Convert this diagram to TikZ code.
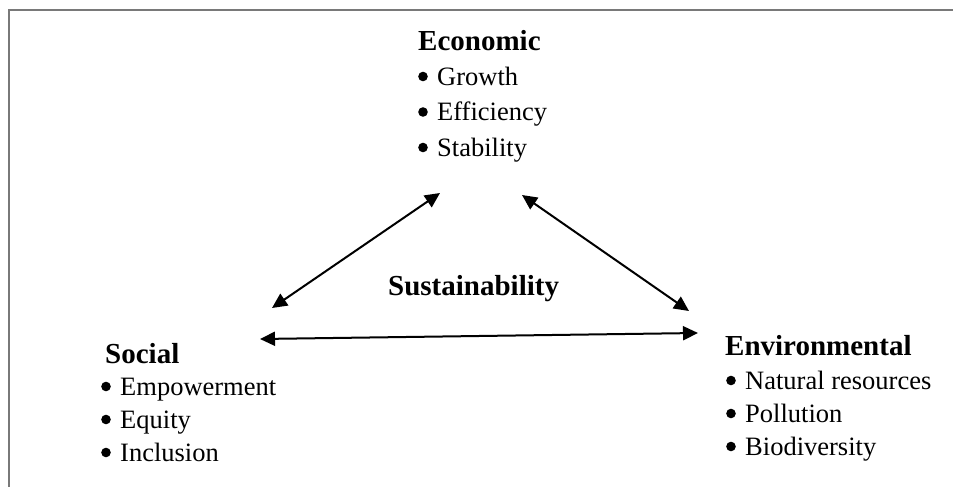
\documentclass[tikz,border=0pt]{standalone}
\usepackage{fontspec}
\setmainfont{Liberation Serif}
\usetikzlibrary{arrows.meta}
\tikzset{
  txt/.style={anchor=base west, inner sep=0pt, font=\fontsize{26.5}{30}\selectfont},
  head/.style={txt, font=\fontsize{29}{32}\selectfont\bfseries},
  link/.style={line width=2pt, {Triangle[length=15pt,width=14pt]}-{Triangle[length=15pt,width=14pt]}},
  frame/.style={draw=gray!95!black, line width=2pt}
}
\newcommand{\bdot}{\tikz[baseline=0pt]\fill (5pt,8.5pt) circle (4.8pt);}
\newcommand{\bitem}[1]{\makebox[19pt][l]{\bdot}#1}
\begin{document}
\begin{tikzpicture}[x=1pt,y=-1pt]
\useasboundingbox (0,0) rectangle (953,487);
\fill[white] (0,0) rectangle (953,487);
\draw[frame] (9,487) -- (9,10) -- (953,10);

% Economic
\node[head] (eco) at (418,51) {Economic};
\node[txt] (eco1) at (418,85) {\bitem{Growth}};
\node[txt] (eco2) at (418,120.5) {\bitem{Efficiency}};
\node[txt] (eco3) at (418,156) {\bitem{Stability}};

% Social
\node[head] (soc) at (105,363) {Social};
\node[txt] (soc1) at (101,395) {\bitem{Empowerment}};
\node[txt] (soc2) at (101,428) {\bitem{Equity}};
\node[txt] (soc3) at (101,461) {\bitem{Inclusion}};

% Environmental
\node[head] (env) at (725,355) {Environmental};
\node[txt] (env1) at (726,389) {\bitem{Natural resources}};
\node[txt] (env2) at (726,422) {\bitem{Pollution}};
\node[txt] (env3) at (726,455) {\bitem{Biodiversity}};

% Centre
\node[head] (sus) at (388,295) {Sustainability};

% arrow end points
\coordinate (ecoL) at (440,193);
\coordinate (socT) at (272,308);
\coordinate (ecoR) at (522,195);
\coordinate (envT) at (689,311);
\coordinate (socR) at (260,339);
\coordinate (envL) at (698,333);

\draw[link] (socT) -- (ecoL);
\draw[link] (ecoR) -- (envT);
\draw[link] (socR) -- (envL);
\end{tikzpicture}
\end{document}
